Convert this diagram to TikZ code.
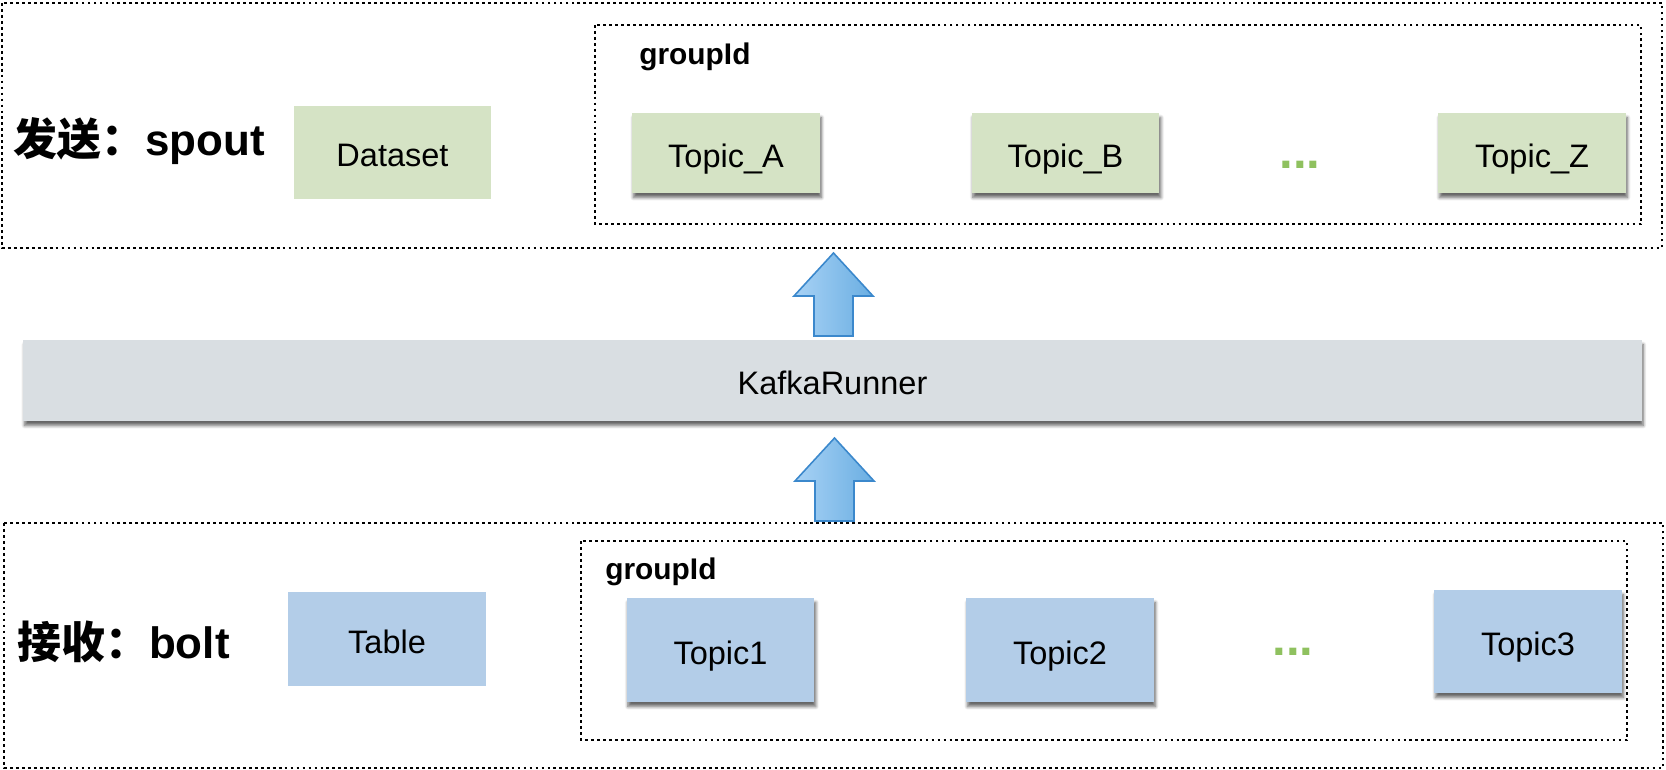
\documentclass[tikz,border=0pt]{standalone}
\usepackage{fontspec}
\setmainfont{Liberation Sans}
\newfontfamily\cjk{Noto Sans CJK SC}
\usetikzlibrary{shadows.blur}

\definecolor{topicgreen}{HTML}{D5E3C5}
\definecolor{topicblue}{HTML}{B3CDE8}
\definecolor{kafkagray}{HTML}{D9DEE2}
\definecolor{dotgreen}{HTML}{8FC15F}
\definecolor{arrowlight}{HTML}{A8D2F5}
\definecolor{arrowdark}{HTML}{6AAEE2}
\definecolor{arrowedge}{HTML}{3B88CC}

\tikzset{
  frame/.style={draw, line width=0.8pt, dash pattern=on 1.6pt off 1.8pt},
  box/.style={minimum width=3.76cm, minimum height=1.6cm, inner sep=0pt,
    text height=16pt, text depth=0pt, font=\fontsize{18.5}{22}\selectfont},
  greenbox/.style={box, fill=topicgreen},
  bluebox/.style={box, fill=topicblue},
  shade box/.style={blur shadow={shadow xshift=0.8pt, shadow yshift=-2.6pt,
    shadow blur steps=6, shadow blur radius=1.8pt, shadow opacity=60}},
  title/.style={anchor=west, inner sep=0pt, font=\fontsize{25}{28}\selectfont\bfseries},
  group/.style={anchor=west, inner sep=0pt, font=\fontsize{17}{20}\selectfont\bfseries},
  more/.style={anchor=base, inner sep=0pt, text=dotgreen,
    font=\fontsize{28}{30}\selectfont\bfseries},
  uparrow/.pic={
    \path[draw=arrowedge, line width=0.9pt, left color=arrowlight, right color=arrowdark]
      (-19.5,0) -- (-19.5,-40) -- (-39.5,-40) -- (0,-83) -- (39.5,-40)
      -- (19.5,-40) -- (19.5,0) -- cycle;
  }
}

\begin{document}
\begin{tikzpicture}[x=0.02cm, y=-0.02cm]
    \useasboundingbox (0,0) rectangle (1666,770);

    % frames
    \draw[frame] (2,3) rectangle (1662,248);
    \draw[frame] (595,25) rectangle (1641,224);
    \draw[frame] (4,523) rectangle (1663,768);
    \draw[frame] (581,541) rectangle (1627,740);

    % spout
    \node[title] (send) at (13,141) {{\cjk 发送：}spout};
    \node[greenbox, minimum width=3.94cm, minimum height=1.86cm] (dataset) at (392.5,152.5) {Dataset};
    \node[group] (sendgroup) at (639,57) {groupId};
    \node[greenbox, shade box] (topicA) at (726,153) {Topic\_A};
    \node[greenbox, shade box] (topicB) at (1065.5,153) {Topic\_B};
    \node[more] (sendmore) at (1300,169) {...};
    \node[greenbox, shade box] (topicZ) at (1532,153) {Topic\_Z};

    % runner
    \node[box, fill=kafkagray, shade box, minimum width=32.38cm, minimum height=1.62cm] (kafka) at (832.5,380.5) {KafkaRunner};

    % bolt
    \node[title] (recv) at (17,642) {{\cjk 接收：}bolt};
    \node[bluebox, minimum width=3.96cm, minimum height=1.88cm] (table) at (387,639) {Table};
    \node[group] (recvgroup) at (605,572) {groupId};
    \node[bluebox, shade box, minimum height=2.08cm] (topic1) at (720.5,650) {Topic1};
    \node[bluebox, shade box, minimum height=2.08cm] (topic2) at (1060,650) {Topic2};
    \node[more] (recvmore) at (1293,655) {...};
    \node[bluebox, shade box, minimum height=2.06cm] (topic3) at (1528,641.5) {Topic3};

    % arrows
    \pic at (833.5,336) {uparrow};
    \pic at (834.5,521) {uparrow};
\end{tikzpicture}
\end{document}
